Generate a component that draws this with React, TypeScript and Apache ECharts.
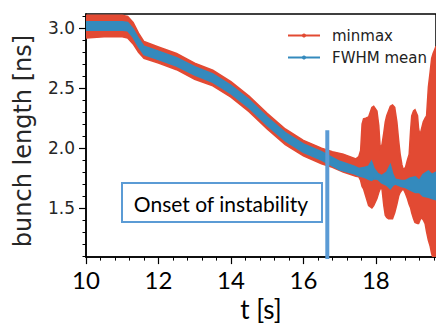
import React, { useEffect, useRef } from 'react';
import * as echarts from 'echarts';

// minmax envelope (time in s, bunch length in ns)
const tRed = [10.0, 10.5, 11.0, 11.15, 11.3, 11.45, 11.6, 12.0, 12.5, 13.0, 13.5, 14.0, 14.5, 15.0, 15.5, 16.0, 16.5, 16.8, 17.1, 17.45, 17.53, 17.58, 17.62, 17.66, 17.72, 17.8, 17.89, 17.94, 18.03, 18.08, 18.12, 18.17, 18.22, 18.26, 18.3, 18.35, 18.4, 18.46, 18.52, 18.58, 18.63, 18.67, 18.72, 18.76, 18.82, 18.87, 18.92, 18.96, 18.99, 19.04, 19.08, 19.15, 19.18, 19.22, 19.26, 19.31, 19.36, 19.4, 19.45, 19.5, 19.54, 19.58, 19.62, 19.66];
const redHi = [3.11, 3.11, 3.11, 3.10, 3.05, 2.96, 2.89, 2.845, 2.79, 2.71, 2.65, 2.555, 2.435, 2.29, 2.16, 2.065, 2.00, 1.97, 1.95, 1.91, 1.93, 1.98, 2.20, 2.245, 2.25, 2.26, 2.34, 2.35, 2.31, 2.19, 2.00, 2.03, 2.13, 2.22, 2.27, 2.31, 2.35, 2.36, 2.34, 2.22, 2.06, 1.95, 1.86, 1.82, 1.84, 1.90, 1.95, 2.15, 2.27, 2.31, 2.32, 2.27, 2.16, 2.11, 2.16, 2.22, 2.25, 2.27, 2.51, 2.64, 2.75, 2.79, 2.82, 2.85];
const redLo = [2.92, 2.93, 2.93, 2.92, 2.87, 2.80, 2.75, 2.71, 2.655, 2.575, 2.52, 2.425, 2.305, 2.16, 2.03, 1.935, 1.87, 1.84, 1.80, 1.765, 1.76, 1.73, 1.68, 1.66, 1.60, 1.52, 1.50, 1.52, 1.58, 1.63, 1.66, 1.66, 1.52, 1.44, 1.42, 1.41, 1.41, 1.41, 1.46, 1.53, 1.60, 1.63, 1.65, 1.66, 1.62, 1.58, 1.53, 1.50, 1.46, 1.41, 1.38, 1.37, 1.37, 1.40, 1.42, 1.40, 1.37, 1.30, 1.23, 1.18, 1.12, 1.08, 1.04, 1.00];

// FWHM mean band
const tBlue = [10.0, 11.0, 11.15, 11.3, 11.45, 11.6, 12.0, 12.5, 13.0, 13.5, 14.0, 14.5, 15.0, 15.5, 16.0, 16.5, 17.0, 17.4, 17.53, 17.7, 17.8, 17.88, 17.95, 18.05, 18.16, 18.3, 18.4, 18.47, 18.54, 18.7, 18.82, 18.95, 19.09, 19.2, 19.3, 19.45, 19.55, 19.66];
const blueHi = [3.055, 3.055, 3.05, 2.995, 2.915, 2.85, 2.81, 2.755, 2.68, 2.62, 2.525, 2.405, 2.26, 2.13, 2.035, 1.97, 1.89, 1.85, 1.83, 1.84, 1.85, 1.89, 1.83, 1.79, 1.77, 1.80, 1.86, 1.78, 1.74, 1.73, 1.73, 1.75, 1.76, 1.73, 1.78, 1.81, 1.78, 1.80];
const blueLo = [2.985, 2.985, 2.98, 2.925, 2.845, 2.78, 2.74, 2.685, 2.61, 2.55, 2.455, 2.335, 2.19, 2.06, 1.965, 1.90, 1.82, 1.785, 1.77, 1.755, 1.74, 1.73, 1.745, 1.74, 1.71, 1.69, 1.66, 1.69, 1.70, 1.68, 1.67, 1.65, 1.63, 1.63, 1.60, 1.59, 1.58, 1.57];

// onset marker
const onsetT = [16.66, 16.66];
const onsetV = [1.0, 2.15];

const xTicks = [10, 12, 14, 16, 18];
const xMinor = [10.4, 10.8, 11.2, 11.6, 12.4, 12.8, 13.2, 13.6, 14.4, 14.8, 15.2, 15.6, 16.4, 16.8, 17.2, 17.6, 18.4, 18.8, 19.2, 19.6];
const yTicks = [1.5, 2.0, 2.5, 3.0];
const yMinor = [1.1, 1.2, 1.3, 1.4, 1.6, 1.7, 1.8, 1.9, 2.1, 2.2, 2.3, 2.4, 2.6, 2.7, 2.8, 2.9, 3.1];

const X_MIN = 10;
const X_MAX = 19.66;
const Y_MIN = 1.09;
const Y_MAX = 3.12;

const RED = '#E24A33';
const BLUE = '#348ABD';
const MARK = '#5B9BD5';

function band(name: string, t: number[], hi: number[], lo: number[], color: string) {
  return {
    type: 'custom',
    name,
    clip: true,
    silent: true,
    z: 2,
    data: [[t[0], hi[0]]],
    renderItem: (params: any, api: any) => {
      if (params.dataIndex !== 0) return null;
      const pts: number[][] = [];
      for (let i = 0; i < t.length; i++) pts.push(api.coord([t[i], hi[i]]));
      for (let i = t.length - 1; i >= 0; i--) pts.push(api.coord([t[i], lo[i]]));
      return {
        type: 'polygon',
        shape: { points: pts },
        style: { fill: color, stroke: color, lineWidth: 1.5 },
      };
    },
  };
}

export default function App() {
  const ref = useRef<HTMLDivElement>(null);
  useEffect(() => {
    if (!ref.current) return;
    const chart = echarts.init(ref.current, null, { renderer: 'svg' });
    const axisLineStyle = { color: '#000', width: 1.5 };
    chart.setOption({
      animation: false,
      backgroundColor: '#fff',
      grid: {
        left: 86, top: 14, right: -2, bottom: 59,
        show: true, borderColor: '#000', borderWidth: 1.5, backgroundColor: 'transparent',
      },
      legend: {
        data: ['minmax', 'FWHM mean'],
        orient: 'vertical',
        left: 287, top: 28, padding: 0,
        itemWidth: 32, itemHeight: 5, itemGap: 7,
        lineStyle: { width: 2 },
        textStyle: { fontFamily: 'DejaVu Sans', fontSize: 15, color: '#222', lineHeight: 15, padding: [0, 0, 0, 7] },
      },
      xAxis: [
        {
          type: 'value', min: X_MIN, max: X_MAX, position: 'bottom',
          axisLine: { show: true, onZero: false, lineStyle: axisLineStyle },
          axisTick: { show: true, customValues: xTicks, length: 7, lineStyle: { color: '#000', width: 1.2 } },
          axisLabel: { customValues: xTicks, fontFamily: 'Lato', fontSize: 24, color: '#000', margin: 10 },
          splitLine: { show: false },
          name: 't [s]', nameLocation: 'middle', nameGap: 37,
          nameTextStyle: { fontFamily: 'Lato', fontSize: 26, color: '#000' },
        },
        {
          type: 'value', min: X_MIN, max: X_MAX, position: 'bottom',
          axisLine: { show: false },
          axisTick: { show: true, customValues: xMinor, length: 3.5, lineStyle: { color: '#000', width: 1 } },
          axisLabel: { show: false },
          splitLine: { show: false },
        },
      ],
      yAxis: [
        {
          type: 'value', min: Y_MIN, max: Y_MAX, position: 'left',
          axisLine: { show: true, onZero: false, lineStyle: axisLineStyle },
          axisTick: { show: true, customValues: yTicks, length: 7, lineStyle: { color: '#000', width: 1.2 } },
          axisLabel: {
            customValues: yTicks, fontFamily: 'DejaVu Sans', fontSize: 17, color: '#262626', margin: 11,
            formatter: (v: number) => v.toFixed(1),
          },
          splitLine: { show: false },
          name: 'bunch length [ns]', nameLocation: 'middle', nameGap: 51, nameRotate: 90,
          nameTextStyle: { fontFamily: 'DejaVu Sans', fontSize: 24, color: '#262626', padding: [0, 11, 0, 0] },
        },
        {
          type: 'value', min: Y_MIN, max: Y_MAX, position: 'left',
          axisLine: { show: false },
          axisTick: { show: true, customValues: yMinor, length: 3.5, lineStyle: { color: '#000', width: 1 } },
          axisLabel: { show: false },
          splitLine: { show: false },
        },
      ],
      series: [
        band('minmax band', tRed, redHi, redLo, RED),
        band('FWHM band', tBlue, blueHi, blueLo, BLUE),
        {
          type: 'line', name: 'minmax', data: [], symbol: 'circle', showSymbol: false,
          lineStyle: { color: RED, width: 2 }, itemStyle: { color: RED },
        },
        {
          type: 'line', name: 'FWHM mean', data: [], symbol: 'circle', showSymbol: false,
          lineStyle: { color: BLUE, width: 2 }, itemStyle: { color: BLUE },
        },
        {
          type: 'line', name: 'onset', z: 5, silent: true, showSymbol: false, symbol: 'none',
          data: onsetT.map((t, i) => [t, onsetV[i]]),
          lineStyle: { color: MARK, width: 4 },
        },
      ],
      graphic: [
        {
          type: 'rect', z: 10,
          shape: { x: 122, y: 183, width: 200, height: 39 },
          style: { fill: '#fff', stroke: MARK, lineWidth: 2 },
        },
        {
          type: 'text', z: 11, x: 221, y: 203,
          style: {
            text: 'Onset of instability', fontFamily: 'Lato', fontSize: 21, fill: '#000',
            align: 'center', verticalAlign: 'middle',
          },
        },
      ],
    });
    return () => chart.dispose();
  }, []);
  return (
    <div
      ref={ref}
      style={{ position: 'absolute', left: 0, top: 0, width: 436, height: 327 }}
    />
  );
}
